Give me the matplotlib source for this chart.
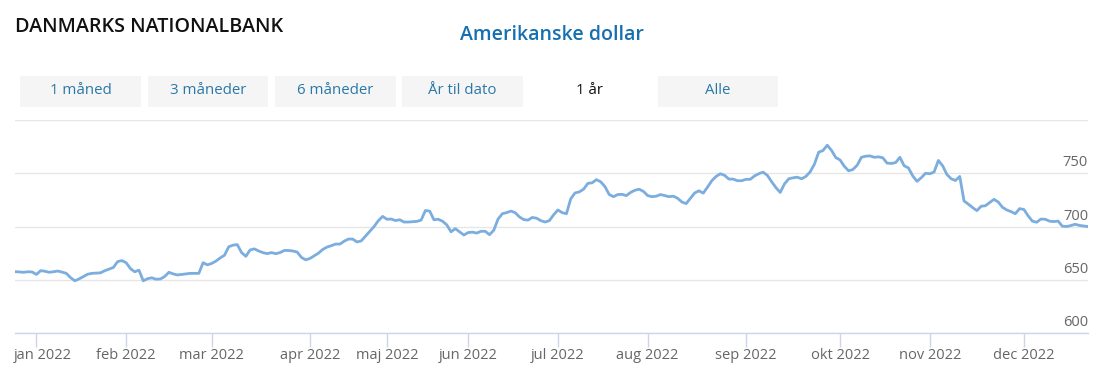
import matplotlib
matplotlib.use("Agg")
import matplotlib.pyplot as plt
import matplotlib.transforms as mtransforms
from matplotlib.patches import Rectangle
import pandas as pd

# ---------------- data ----------------
holidays = ["2021-12-24", "2021-12-31", "2022-04-14", "2022-04-15", "2022-04-18",
            "2022-05-13", "2022-05-26", "2022-05-27", "2022-06-06"]
dates = pd.bdate_range("2021-12-23", "2022-12-22", freq="C", holidays=holidays)

values = [
    657.6, 657.3, 657.0, 657.5, 657.3, 655.0, 658.5, 658.0, 657.0, 657.5,
    658.2, 657.2, 656.0, 652.0, 649.0, 650.8, 653.0, 655.2, 656.0, 656.3,
    656.5, 658.5, 660.0, 661.5, 667.0, 668.0, 666.0, 660.5, 657.5, 659.0,
    649.0, 651.0, 651.8, 650.5, 650.7, 653.0, 657.0, 655.5, 654.5, 655.0,
    655.5, 656.0, 656.0, 656.0, 666.0, 664.0, 665.3, 667.5, 670.5, 673.0,
    681.0, 682.5, 683.0, 675.5, 672.0, 678.0, 679.0, 677.0, 675.5, 674.5,
    675.5, 674.5, 675.5, 677.5, 677.5, 677.0, 676.0, 671.0, 668.7, 670.0,
    672.5, 675.0, 678.5, 680.7, 682.0, 683.5, 683.5, 686.2, 688.2, 688.2,
    685.5, 686.5, 691.0, 695.5, 700.0, 705.5, 709.5, 706.8, 707.0, 705.6,
    706.3, 704.2, 704.2, 704.5, 704.8, 706.0, 715.0, 714.5, 706.3, 706.8,
    705.0, 701.5, 695.0, 698.0, 695.0, 692.0, 694.3, 694.7, 693.8, 695.5,
    695.5, 692.3, 696.5, 707.0, 712.0, 713.0, 714.5, 713.0, 709.0, 706.5,
    706.0, 708.5, 707.8, 705.5, 704.2, 705.5, 711.0, 715.5, 713.0, 712.0,
    726.0, 731.5, 732.5, 735.0, 740.5, 741.0, 744.0, 742.0, 737.5, 730.0,
    728.0, 730.0, 730.2, 729.0, 732.0, 734.0, 735.0, 733.0, 729.0, 728.0,
    728.5, 730.0, 729.0, 728.0, 728.5, 726.5, 723.0, 721.5, 726.5, 731.5,
    733.5, 731.3, 737.0, 743.0, 747.0, 749.5, 748.0, 744.5, 744.5, 743.0,
    743.0, 744.3, 744.3, 747.5, 749.6, 751.0, 748.0, 742.0, 736.5, 732.0,
    740.0, 744.8, 745.7, 746.3, 744.8, 747.0, 751.3, 758.5, 769.8, 771.3,
    776.3, 771.5, 764.7, 762.5, 756.5, 752.3, 753.5, 757.5, 765.0, 766.0,
    766.3, 765.0, 765.4, 764.5, 759.5, 759.2, 760.0, 765.0, 757.0, 755.0,
    747.5, 742.4, 745.8, 750.0, 749.5, 751.2, 762.0, 757.0, 748.8, 744.8,
    743.2, 747.0, 724.0, 721.0, 717.8, 714.9, 719.0, 719.5, 722.5, 725.5,
    723.0, 718.0, 715.5, 714.0, 712.0, 716.8, 716.0, 710.0, 705.0, 704.0,
    707.0, 706.8, 705.0, 704.6, 705.1, 700.3, 700.0, 700.9, 702.1, 701.0,
    700.5, 699.9,
]

month_labels = ["jan 2022", "feb 2022", "mar 2022", "apr 2022", "maj 2022", "jun 2022",
                "jul 2022", "aug 2022", "sep 2022", "okt 2022", "nov 2022", "dec 2022"]
y_ticks = [600, 650, 700, 750, 800]
y_labels = [600, 650, 700, 750]
buttons = ["1 måned", "3 måneder", "6 måneder", "År til dato", "1 år", "Alle"]
selected_button = "1 år"

# ---------------- figure ----------------
W, H = 1117, 377
FONT = "Open Sans"
plt.rcParams["font.family"] = [FONT, "DejaVu Sans"]

fig = plt.figure(figsize=(W / 100, H / 100), dpi=100)
fig.patch.set_facecolor("white")

def fx(x):
    return x / W

def fy(y):
    return 1 - y / H

ax = fig.add_axes([fx(15), 44 / H, 1073 / W, 213 / H])
n = len(values)
ax.plot(range(n), values, color="#7badde", lw=2, solid_joinstyle="round", zorder=3)
ax.set_xlim(0, n - 1)
ax.set_ylim(600, 800)

for s in ["top", "left", "right"]:
    ax.spines[s].set_visible(False)
ax.spines["bottom"].set_color("#ccd6eb")
ax.spines["bottom"].set_linewidth(1)

ax.set_yticks(y_ticks)
ax.yaxis.grid(True, color="#e6e6e6", lw=1)
ax.tick_params(axis="y", left=False, labelleft=False)
ax.set_axisbelow(True)

# month start ticks (by trading-day index)
month_idx = []
prev = None
for i, d in enumerate(dates[:n]):
    if d.year == 2022 and d.month != prev:
        month_idx.append(i)
    prev = d.month
ax.set_xticks(month_idx[:len(month_labels)])
ax.set_xticklabels(month_labels[:len(month_idx)])
ax.tick_params(axis="x", length=10, width=1, color="#ccd6eb", labelcolor="#666666",
               labelsize=10.5, pad=0.5)
first = ax.get_xticklabels()[0]
first.set_transform(first.get_transform() +
                    mtransforms.ScaledTranslation(6 / 100, 0, fig.dpi_scale_trans))

trans = mtransforms.blended_transform_factory(ax.transAxes, ax.transData)
off = mtransforms.ScaledTranslation(0, 3 / 100, fig.dpi_scale_trans)
for v in y_labels:
    ax.text(1.0, v, str(v), transform=trans + off, ha="right", va="bottom",
            color="#666666", fontsize=10.5)

# ---------------- header ----------------
fig.text(fx(15), fy(27), "DANMARKS NATIONALBANK", ha="left", va="center",
         fontsize=14.2, fontweight="semibold", color="#111111")
fig.text(fx(552), fy(35), "Amerikanske dollar", ha="center", va="center",
         fontsize=14, fontweight="semibold", color="#1670b0")

btn_boxes = [(20, 141), (148, 268), (275, 396), (402, 523), (530, 650), (658, 778)]
for label, (x0, x1) in zip(buttons, btn_boxes):
    is_sel = label == selected_button
    if not is_sel:
        fig.add_artist(Rectangle((fx(x0), fy(107)), (x1 - x0) / W, 31 / H,
                                 transform=fig.transFigure, facecolor="#f5f5f5",
                                 edgecolor="none"))
    fig.text(fx((x0 + x1) / 2), fy(90), label, ha="center", va="center",
             fontsize=10.8, color="#111111" if is_sel else "#2a78a8",
             fontweight="medium" if is_sel else "normal")

fig.savefig("out.png", dpi=100, facecolor="white")
